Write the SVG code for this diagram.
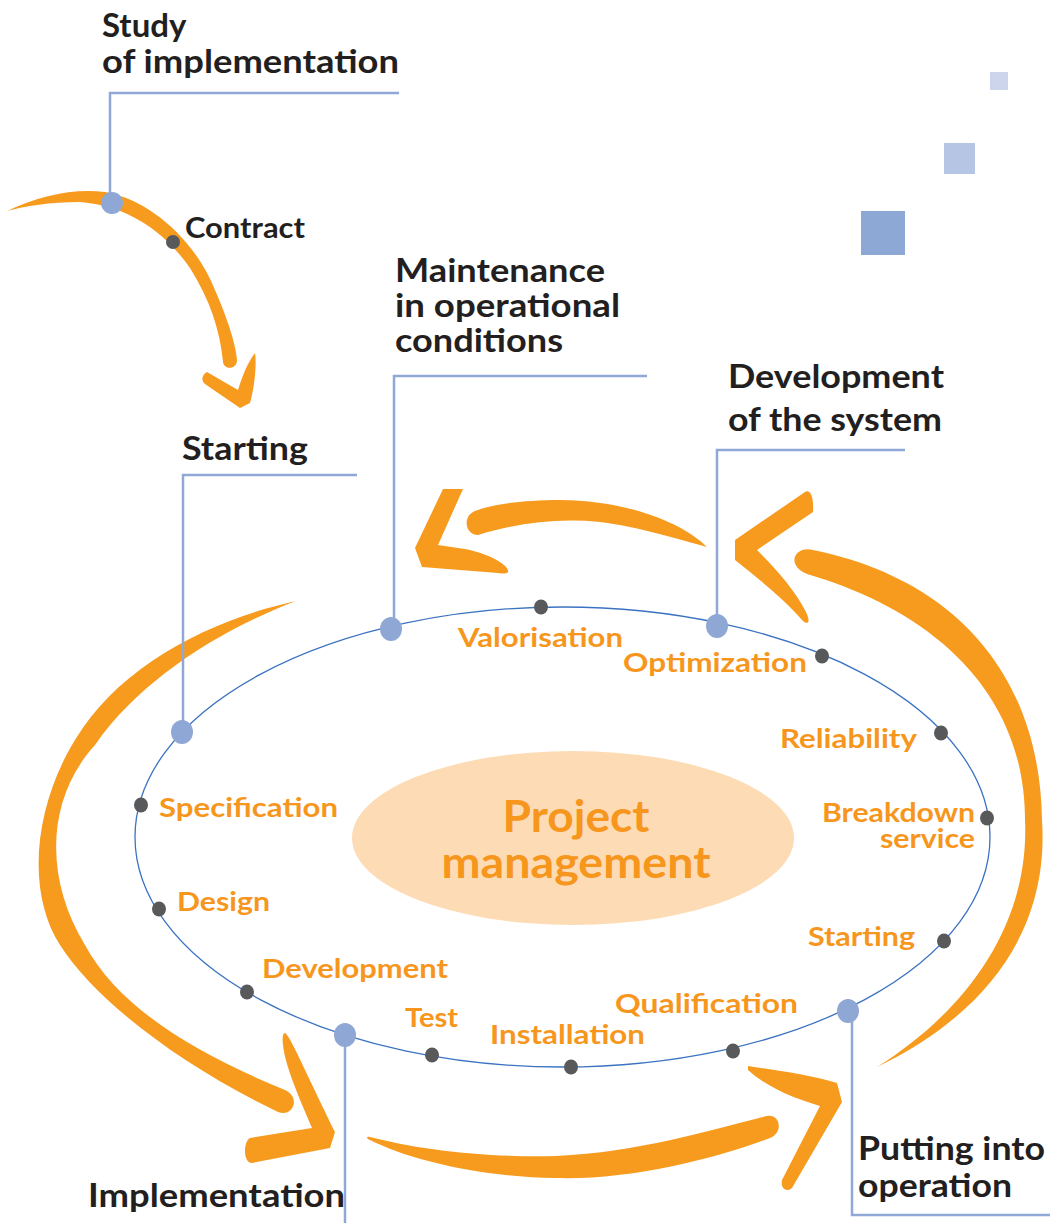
<svg xmlns="http://www.w3.org/2000/svg" width="1061" height="1223" viewBox="0 0 1061 1223">
<style>
.h{font-family:Lato,"Open Sans","Liberation Sans",sans-serif;font-weight:bold;font-size:33px;fill:#231f20}
.hs{font-family:Lato,"Open Sans","Liberation Sans",sans-serif;font-weight:bold;font-size:28px;fill:#231f20}
.o{font-family:Lato,"Open Sans","Liberation Sans",sans-serif;font-weight:bold;font-size:26px;fill:#f7961d}
.c{font-family:Lato,"Open Sans","Liberation Sans",sans-serif;font-weight:bold;font-size:44px;fill:#f7961d}
.arr{fill:#f79b1e;stroke:none}
.lead{fill:none;stroke:#8fa8d6;stroke-width:2.5}
.dk{fill:#58595b}
.bl{fill:#8fa7d5}
</style>
<rect width="1061" height="1223" fill="#ffffff"/>
<g id="squares">
<rect x="990" y="72" width="18" height="18" fill="#ccd5eb"/>
<rect x="944" y="143" width="31" height="31" fill="#b5c5e3"/>
<rect x="861" y="211" width="44" height="44" fill="#8ea8d6"/>
</g>
<g id="arrows">
<path class="arr" d="M7,211 C40,195 75,188 105,192 C150,200 195,240 215,290 C228,320 236,345 237,360 C237,370 224,370 223,362 C220,330 210,300 190,268 C160,225 120,205 80,202 C50,202 25,206 7,211 Z"/>
<path class="arr" d="M207,372 L238,390 C242,378 246,365 255,353 C257,365 254,390 250,403 L240,408 L205,384 C200,380 203,374 207,372 Z"/>
<path class="arr" d="M707,547 C680,520 620,500 560,500 C520,500 490,505 475,511 C462,516 465,535 478,535 C520,522 560,518 600,522 C640,527 680,540 707,547 Z"/>
<path class="arr" d="M443,489 L463,489 L438,545 L465,549 C485,553 505,562 508,570 C509,574 505,574 498,573 L422,567 L415,548 Z"/>
<path class="arr" d="M805,492 C810,489 814,496 813,512 L757,550 C775,568 795,590 806,612 C811,622 808,626 802,620 C785,600 760,580 735,560 L735,540 Z"/>
<path class="arr" d="M877,1067 C975,1020 1050,940 1042,820 C1040,680 960,580 813,550 C795,545 785,565 807,574 C930,610 1025,690 1025,820 C1030,930 960,1015 877,1067 Z"/>
<path class="arr" d="M296,601 C210,620 120,665 75,740 C35,805 25,890 60,945 C95,1000 180,1065 278,1112 C292,1118 302,1098 285,1090 C200,1055 120,1010 85,945 C45,880 45,800 95,745 C140,680 220,630 296,601 Z"/>
<path class="arr" d="M285,1033 C290,1036 300,1060 335,1132 L330,1148 L252,1163 C243,1163 243,1142 250,1138 L312,1128 C298,1095 285,1065 283,1045 C282,1038 283,1033 285,1033 Z"/>
<path class="arr" d="M370,1137 C420,1150 490,1158 556,1156 C640,1152 710,1130 767,1116 C780,1114 784,1132 770,1138 C710,1160 630,1180 556,1178 C480,1177 410,1160 370,1140 C366,1138 366,1136 370,1137 Z"/>
<path class="arr" d="M748,1066 C775,1070 810,1075 837,1083 L842,1102 L792,1188 C788,1192 780,1190 782,1180 L820,1106 C800,1100 770,1090 748,1070 Z"/>
</g>
<g id="cycle">
<ellipse cx="562.5" cy="837" rx="427.5" ry="230" fill="none" stroke="#3b73c2" stroke-width="1.3"/>
</g>
<g id="center">
<ellipse cx="573" cy="838" rx="221" ry="87" fill="#fddcb5"/>
<text class="c" x="576" y="832" text-anchor="middle" textLength="147" lengthAdjust="spacingAndGlyphs">Project</text>
<text class="c" x="576" y="878" text-anchor="middle" textLength="269" lengthAdjust="spacingAndGlyphs">management</text>
</g>
<g id="connectors">
<path class="lead" d="M399,93 H110 V203"/>
<path class="lead" d="M647,376 H394 V629"/>
<path class="lead" d="M905,450 H717 V626"/>
<path class="lead" d="M357,475 H183 V732"/>
<path class="lead" d="M345,1035 V1223"/>
<path class="lead" d="M852,1011 V1215 H1050"/>
</g>
<g id="dots">
<ellipse class="bl" cx="112" cy="203" rx="11" ry="11"/>
<ellipse class="dk" cx="173" cy="242" rx="7" ry="7"/>
<ellipse class="bl" cx="391" cy="629" rx="11" ry="12"/>
<ellipse class="bl" cx="717" cy="626" rx="11" ry="12"/>
<ellipse class="bl" cx="182" cy="732" rx="11" ry="12"/>
<ellipse class="bl" cx="345" cy="1035" rx="11" ry="12"/>
<ellipse class="bl" cx="848" cy="1011" rx="11" ry="12"/>
<ellipse class="dk" cx="541" cy="607" rx="7" ry="7.5"/>
<ellipse class="dk" cx="822" cy="656" rx="7" ry="7.5"/>
<ellipse class="dk" cx="941" cy="733" rx="7" ry="7.5"/>
<ellipse class="dk" cx="987" cy="818" rx="7" ry="7.5"/>
<ellipse class="dk" cx="944" cy="941" rx="7" ry="7.5"/>
<ellipse class="dk" cx="733" cy="1051" rx="7" ry="7.5"/>
<ellipse class="dk" cx="571" cy="1067" rx="7" ry="7.5"/>
<ellipse class="dk" cx="432" cy="1055" rx="7" ry="7.5"/>
<ellipse class="dk" cx="247" cy="992" rx="7" ry="7.5"/>
<ellipse class="dk" cx="159" cy="909" rx="7" ry="7.5"/>
<ellipse class="dk" cx="141" cy="805" rx="7" ry="7.5"/>
</g>
<g id="phase-labels">
<text class="h" x="102" y="37">Study</text>
<text class="h" x="102" y="73" textLength="297" lengthAdjust="spacingAndGlyphs">of implementation</text>
<text class="hs" x="185" y="238" textLength="120" lengthAdjust="spacingAndGlyphs">Contract</text>
<text class="h" x="395" y="282" textLength="210" lengthAdjust="spacingAndGlyphs">Maintenance</text>
<text class="h" x="395" y="317" textLength="225" lengthAdjust="spacingAndGlyphs">in operational</text>
<text class="h" x="395" y="352" textLength="168" lengthAdjust="spacingAndGlyphs">conditions</text>
<text class="h" x="728" y="388" textLength="216" lengthAdjust="spacingAndGlyphs">Development</text>
<text class="h" x="728" y="431" textLength="214" lengthAdjust="spacingAndGlyphs">of the system</text>
<text class="h" x="182" y="460" textLength="126" lengthAdjust="spacingAndGlyphs">Starting</text>
<text class="h" x="88" y="1207" textLength="257" lengthAdjust="spacingAndGlyphs">Implementation</text>
<text class="h" x="858" y="1160" textLength="187" lengthAdjust="spacingAndGlyphs">Putting into</text>
<text class="h" x="858" y="1197" textLength="154" lengthAdjust="spacingAndGlyphs">operation</text>
</g>
<g id="step-labels">
<text class="o" x="458" y="647" textLength="165" lengthAdjust="spacingAndGlyphs">Valorisation</text>
<text class="o" x="623" y="672" textLength="184" lengthAdjust="spacingAndGlyphs">Optimization</text>
<text class="o" x="780" y="748" textLength="137" lengthAdjust="spacingAndGlyphs">Reliability</text>
<text class="o" x="822" y="822" textLength="153" lengthAdjust="spacingAndGlyphs">Breakdown</text>
<text class="o" x="880" y="848" textLength="95" lengthAdjust="spacingAndGlyphs">service</text>
<text class="o" x="808" y="946" textLength="107" lengthAdjust="spacingAndGlyphs">Starting</text>
<text class="o" x="615" y="1013" textLength="183" lengthAdjust="spacingAndGlyphs">Qualification</text>
<text class="o" x="490" y="1044" textLength="155" lengthAdjust="spacingAndGlyphs">Installation</text>
<text class="o" x="405" y="1027" textLength="53" lengthAdjust="spacingAndGlyphs">Test</text>
<text class="o" x="262" y="978" textLength="186" lengthAdjust="spacingAndGlyphs">Development</text>
<text class="o" x="177" y="911" textLength="93" lengthAdjust="spacingAndGlyphs">Design</text>
<text class="o" x="159" y="817" textLength="179" lengthAdjust="spacingAndGlyphs">Specification</text>
</g>
</svg>
